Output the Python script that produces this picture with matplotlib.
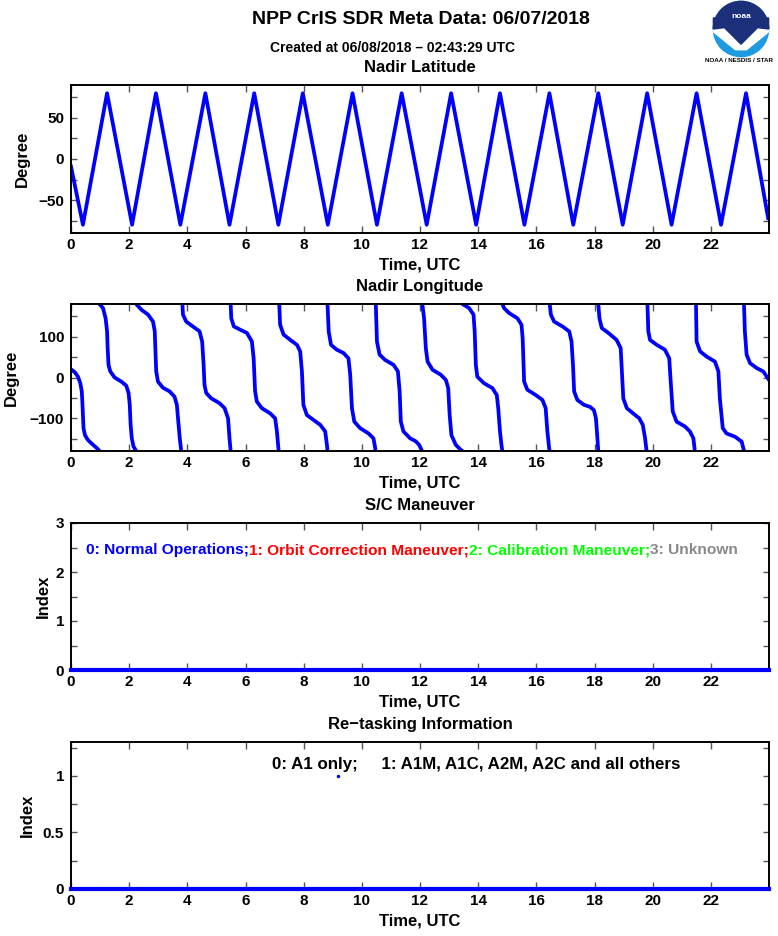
import matplotlib
matplotlib.use('Agg')
import matplotlib.pyplot as plt
from matplotlib.patches import Circle, Polygon, Wedge
from matplotlib.ticker import MultipleLocator, FormatStrFormatter

plt.rcParams['font.family'] = ['Liberation Sans', 'DejaVu Sans']
plt.rcParams['font.weight'] = 'bold'

# Nadir latitude: turning points (hours UTC, degrees)
lat_time = [0.0, 0.41, 1.24, 2.10, 2.92, 3.76, 4.62, 5.45, 6.30, 7.13, 7.97,
            8.83, 9.68, 10.52, 11.37, 12.23, 13.07, 13.93, 14.75, 15.59,
            16.45, 17.27, 18.13, 18.97, 19.81, 20.65, 21.51, 22.35, 23.21, 23.97]
lat_deg = [-9, -80, 80, -80, 80, -80, 80, -80, 80, -80, 80,
           -80, 80, -80, 80, -80, 80, -80, 80, -80,
           80, -80, 80, -80, 80, -80, 80, -80, 80, -72]

# Nadir longitude: one list per wrap segment (hours UTC / degrees)
lon_time = [
    [0.0, 0.13, 0.24, 0.32, 0.37, 0.39, 0.41, 0.43, 0.48, 0.58, 0.76, 0.89, 0.98],
    [0.98, 1.10, 1.19, 1.24, 1.26, 1.29, 1.35, 1.50, 1.73, 1.90, 1.98, 2.02, 2.05, 2.09, 2.15, 2.24],
    [2.24, 2.42, 2.65, 2.82, 2.88, 2.90, 2.93, 2.99, 3.16, 3.39, 3.56, 3.64, 3.68, 3.74, 3.79],
    [3.83, 3.85, 3.96, 4.19, 4.42, 4.51, 4.56, 4.59, 4.65, 4.82, 5.11, 5.28, 5.40, 5.45, 5.49],
    [5.49, 5.51, 5.60, 5.82, 6.05, 6.22, 6.28, 6.33, 6.39, 6.56, 6.85, 7.02, 7.08, 7.14],
    [7.16, 7.19, 7.31, 7.54, 7.77, 7.88, 7.94, 7.99, 8.11, 8.34, 8.57, 8.74, 8.80, 8.82],
    [8.82, 8.86, 8.94, 9.14, 9.37, 9.54, 9.60, 9.66, 9.74, 9.94, 10.23, 10.40, 10.46, 10.47],
    [10.48, 10.52, 10.61, 10.80, 11.09, 11.24, 11.30, 11.34, 11.43, 11.66, 11.85, 11.97, 12.07],
    [12.08, 12.14, 12.20, 12.26, 12.43, 12.71, 12.89, 12.97, 13.02, 13.08, 13.23, 13.40, 13.46],
    [13.46, 13.69, 13.84, 13.88, 13.92, 13.97, 14.20, 14.49, 14.64, 14.69, 14.75, 14.80, 14.83],
    [14.83, 14.89, 15.06, 15.35, 15.49, 15.53, 15.58, 15.69, 15.98, 16.21, 16.32, 16.38, 16.44, 16.46],
    [16.46, 16.50, 16.61, 16.90, 17.13, 17.21, 17.26, 17.30, 17.41, 17.64, 17.85, 17.98, 18.05, 18.10, 18.13],
    [18.13, 18.17, 18.25, 18.48, 18.76, 18.90, 18.93, 18.99, 19.11, 19.33, 19.54, 19.66, 19.74, 19.79],
    [19.82, 19.85, 19.91, 20.14, 20.42, 20.57, 20.62, 20.69, 20.82, 21.11, 21.28, 21.40, 21.45],
    [21.49, 21.51, 21.63, 21.86, 22.14, 22.26, 22.31, 22.41, 22.54, 22.83, 23.06, 23.14],
    [23.14, 23.17, 23.23, 23.35, 23.58, 23.80, 24.0],
]
lon_deg = [
    [20, 13, 2, -14, -34, -59, -92, -124, -141, -153, -165, -173, -180],
    [180, 170, 145, 113, 72, 31, 15, 0, -10, -20, -38, -67, -116, -149, -169, -180],
    [180, 166, 154, 137, 113, 72, 15, -10, -25, -34, -47, -67, -100, -149, -180],
    [180, 154, 137, 125, 113, 88, 31, -18, -38, -51, -63, -75, -100, -149, -180],
    [180, 145, 125, 117, 109, 88, 47, -34, -59, -75, -88, -100, -132, -180],
    [180, 129, 105, 92, 80, 64, 15, -67, -92, -104, -116, -132, -165, -180],
    [180, 113, 80, 68, 60, 47, 7, -75, -108, -124, -137, -149, -173, -180],
    [180, 88, 56, 43, 31, 15, -34, -108, -132, -149, -156, -165, -180],
    [180, 145, 72, 39, 19, 7, -6, -26, -92, -141, -165, -177, -180],
    [180, 170, 154, 113, 31, 2, -14, -26, -43, -75, -132, -165, -180],
    [180, 170, 158, 145, 129, 96, -10, -30, -43, -55, -75, -132, -173, -180],
    [180, 154, 137, 125, 113, 88, 31, -34, -55, -67, -72, -80, -100, -149, -180],
    [180, 145, 121, 109, 92, 72, 31, -51, -75, -88, -100, -116, -149, -180],
    [180, 113, 92, 80, 68, 47, -10, -83, -108, -120, -132, -149, -180],
    [180, 88, 64, 51, 39, 15, -51, -124, -137, -145, -157, -180],
    [180, 113, 56, 35, 23, 15, -6],
]

# S/C maneuver flag and re-tasking flag over the day
maneuver_time = [0.0, 24.0]
maneuver_idx = [0, 0]
retask_time = [0.0, 24.0]
retask_idx = [0, 0]
retask_flag_time = [9.19]
retask_flag_idx = [1]

maneuver_labels = ['0: Normal Operations;', '1: Orbit Correction Maneuver;',
                   '2: Calibration Maneuver;', '3: Unknown']
maneuver_colors = ['#0000ff', '#ff0000', '#00ff00', '#888888']
retask_label = '0: A1 only;     1: A1M, A1C, A2M, A2C and all others'

BLUE = '#0000ff'
W, H = 778, 936


def style_axes(ax, ymajor, yminor, fmt=None):
    ax.set_xlim(0, 24)
    ax.set_xticks(range(0, 24, 2))
    ax.yaxis.set_major_locator(MultipleLocator(ymajor))
    ax.yaxis.set_minor_locator(MultipleLocator(yminor))
    if fmt:
        ax.yaxis.set_major_formatter(FormatStrFormatter(fmt))
    ax.tick_params(which='both', direction='in', top=True, right=True,
                   labelsize=11, width=1.0, color='#555555')
    ax.tick_params(axis='x', which='major', length=5, pad=3.5)
    ax.tick_params(axis='y', which='both', length=4, pad=5)
    for lab in ax.get_xticklabels() + ax.get_yticklabels():
        lab.set_fontweight('bold')
    for sp in ax.spines.values():
        sp.set_linewidth(1.4)
    ax.text(0.5, -0.216, 'Time, UTC', transform=ax.transAxes,
            ha='center', va='center', fontsize=12, fontweight='bold')


def add_axes(top_px, bottom_px):
    return fig.add_axes([71 / W, 1 - bottom_px / H, 698 / W, (bottom_px - top_px) / H])


fig = plt.figure(figsize=(7.78, 9.36), dpi=100)

fig.text(421 / W, 1 - 20 / H, 'NPP CrIS SDR Meta Data: 06/07/2018',
         ha='center', va='center', fontsize=14, fontweight='bold')
fig.text(392 / W, 1 - 48 / H, 'Created at 06/08/2018 \u2013 02:43:29 UTC',
         ha='center', va='center', fontsize=10, fontweight='bold')

# panel 1: latitude
ax1 = add_axes(85, 233)
ax1.plot(lat_time, lat_deg, color=BLUE, lw=2.7, solid_joinstyle='round')
ax1.set_ylim(-90, 90)
style_axes(ax1, 50, 25)
ax1.text(0.5, 1.12, 'Nadir Latitude', transform=ax1.transAxes,
         ha='center', va='center', fontsize=12, fontweight='bold')
ax1.text(-0.07, 0.5, 'Degree', transform=ax1.transAxes, rotation=90,
         ha='center', va='center', fontsize=12, fontweight='bold')

# panel 2: longitude
ax2 = add_axes(304, 451)
for t, lon in zip(lon_time, lon_deg):
    ax2.plot(t, lon, color=BLUE, lw=2.7, solid_joinstyle='round')
ax2.set_ylim(-180, 180)
style_axes(ax2, 100, 50)
ax2.text(0.5, 1.12, 'Nadir Longitude', transform=ax2.transAxes,
         ha='center', va='center', fontsize=12, fontweight='bold')
ax2.text(-0.085, 0.5, 'Degree', transform=ax2.transAxes, rotation=90,
         ha='center', va='center', fontsize=12, fontweight='bold')

# panel 3: maneuver
ax3 = add_axes(523, 670)
ax3.plot(maneuver_time, maneuver_idx, color=BLUE, lw=3, clip_on=False, zorder=5)
ax3.set_ylim(0, 3)
style_axes(ax3, 1, 0.5)
ax3.text(0.5, 1.12, 'S/C Maneuver', transform=ax3.transAxes,
         ha='center', va='center', fontsize=12, fontweight='bold')
ax3.text(-0.04, 0.5, 'Index', transform=ax3.transAxes, rotation=90,
         ha='center', va='center', fontsize=12, fontweight='bold')
prev = ax3.text(0.52, 2.44, maneuver_labels[0], color=maneuver_colors[0],
                ha='left', va='center', fontsize=11.15, fontweight='bold')
for lab, col in zip(maneuver_labels[1:], maneuver_colors[1:]):
    prev = ax3.annotate(lab, xy=(1, 0.5), xycoords=prev, color=col,
                        ha='left', va='center', fontsize=11.15, fontweight='bold')

# panel 4: re-tasking
ax4 = add_axes(742, 889)
ax4.plot(retask_time, retask_idx, color=BLUE, lw=3, clip_on=False, zorder=5)
ax4.plot(retask_flag_time, retask_flag_idx, 'o', color=BLUE, ms=1.5)
ax4.set_ylim(0, 1.3)
style_axes(ax4, 0.5, 0.25, '%g')
ax4.text(0.5, 1.12, 'Re\u2212tasking Information', transform=ax4.transAxes,
         ha='center', va='center', fontsize=12, fontweight='bold')
ax4.text(-0.062, 0.5, 'Index', transform=ax4.transAxes, rotation=90,
         ha='center', va='center', fontsize=12, fontweight='bold')
ax4.text(6.92, 1.1, retask_label, ha='left', va='center',
         fontsize=12.2, fontweight='bold')

# NOAA logo, rough sketch
lg = fig.add_axes([711 / W, 1 - 58 / H, 60 / W, 58 / H])
lg.set_xlim(-1.05, 1.05)
lg.set_ylim(-1.05, 1.05)
lg.set_aspect('equal')
lg.axis('off')
lg.add_patch(Circle((0, 0), 1.0, color='#1e9be0'))
lg.add_patch(Wedge((0, 0), 1.0, 0, 180, color='#1b2f7a'))
lg.add_patch(Polygon([[-1.0, 0.0], [-0.6, 0.05], [0.0, -0.55], [0.6, 0.05],
                      [1.0, 0.0], [1.0, -0.1], [0.2, -0.75], [-0.2, -0.75],
                      [-1.0, -0.1]], closed=True, color='white'))
lg.add_patch(Polygon([[-1.0, 0.0], [-0.6, 0.05], [0.0, -0.55], [0.6, 0.05],
                      [1.0, 0.0], [1.0, 0.4], [-1.0, 0.4]], closed=True,
                     color='#1b2f7a'))
lg.text(0, 0.45, 'noaa', color='white', ha='center', va='center',
        fontsize=6, fontweight='bold')
fig.text(739 / W, 1 - 60 / H, 'NOAA / NESDIS / STAR', ha='center', va='center',
         fontsize=4.5, fontweight='bold')

fig.savefig('out.png', dpi=100)
